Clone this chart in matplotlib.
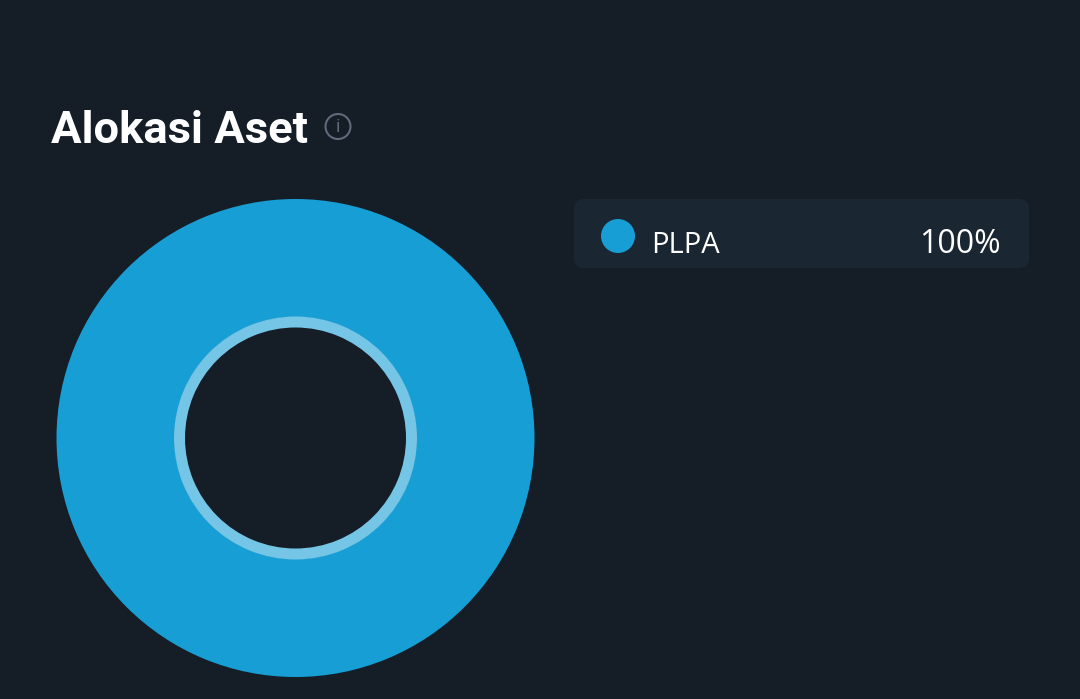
#!/usr/bin/env python3

import matplotlib
matplotlib.use('Agg')
import matplotlib.pyplot as plt
from matplotlib.patches import Circle, FancyBboxPatch

title = 'Alokasi Aset'
labels = ['PLPA']
shares = [100]

BG = '#151d27'
ROW_BG = '#1a2631'
BLUE = '#179fd5'
BLUE_LIGHT = '#74c5e6'
ICON = '#5f6a7a'

plt.rcParams['font.family'] = ['Roboto', 'DejaVu Sans']

fig = plt.figure(figsize=(10.8, 6.99), dpi=100, facecolor=BG)
# axes in image pixels, y pointing down
ax = fig.add_axes([0, 0, 1, 1])
ax.set_facecolor(BG)

# main ring, then the lighter inner ring
ax.pie(shares, colors=[BLUE], center=(295.5, 438), radius=239, startangle=90,
       wedgeprops={'width': 118, 'linewidth': 0}, frame=True)
ax.pie(shares, colors=[BLUE_LIGHT], center=(295.5, 438), radius=121.5, startangle=90,
       wedgeprops={'width': 11, 'linewidth': 0}, frame=True)

ax.set_xlim(0, 1080)
ax.set_ylim(699, 0)
ax.set_aspect('equal')
ax.axis('off')

ax.text(51, 143, title, color='white', fontsize=32.7, fontweight='bold', va='baseline')

# info icon
ax.add_patch(Circle((338, 126.5), 12.5, fill=False, edgecolor=ICON, linewidth=1.5))
ax.text(338, 127, 'i', color=ICON, fontsize=13, ha='center', va='center')

# legend row
ax.add_patch(FancyBboxPatch((574, 199), 455, 69, boxstyle='round,pad=0,rounding_size=10',
                            facecolor=ROW_BG, linewidth=0))
ax.add_patch(Circle((618, 236), 17, facecolor=BLUE, linewidth=0))
ax.text(651, 253, labels[0], color='white', fontsize=21, family=['Open Sans', 'DejaVu Sans'],
        va='baseline')
ax.text(1001, 253, f'{shares[0]}%', color='white', fontsize=23,
        family=['Open Sans', 'DejaVu Sans'], va='baseline', ha='right')

fig.savefig('out.png', dpi=100, facecolor=BG)
